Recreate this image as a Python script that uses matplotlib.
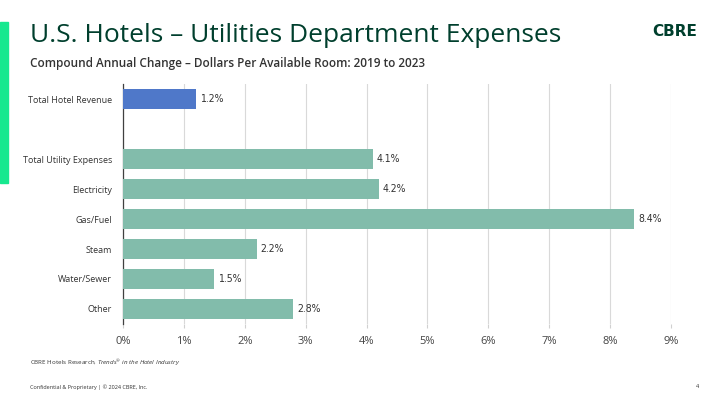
import matplotlib.pyplot as plt
from matplotlib.patches import Rectangle

plt.rcParams['mathtext.fontset'] = 'custom'
plt.rcParams['mathtext.rm'] = 'Open Sans'
plt.rcParams['mathtext.it'] = 'Open Sans:italic'

# data
categories = ['Total Hotel Revenue', '', 'Total Utility Expenses', 'Electricity',
              'Gas/Fuel', 'Steam', 'Water/Sewer', 'Other']
values = [1.2, None, 4.1, 4.2, 8.4, 2.2, 1.5, 2.8]
ticks = [0, 1, 2, 3, 4, 5, 6, 7, 8, 9]

blue = '#4f78c9'
teal = '#82bcab'
dark_green = '#003f2d'

fig = plt.figure(figsize=(7.2, 4.05), dpi=100)
fig.patch.set_facecolor('white')

# green accent bar on the left
fig.patches.append(Rectangle((0, 1 - 183/405), 8/720, 161/405, transform=fig.transFigure,
                             color='#17e88f', zorder=0))

fig.text(30/720, 1 - 36/405, 'U.S. Hotels – Utilities Department Expenses', fontsize=19,
         color=dark_green, family='Open Sans', va='center')
fig.text(30/720, 1 - 63/405, 'Compound Annual Change – Dollars Per Available Room: 2019 to 2023',
         fontsize=8.5, color='#333333', family='Open Sans', fontweight='semibold', va='center')
fig.text(697/720, 1 - 31/405, 'CBRE', fontsize=11, color=dark_green, family='DejaVu Sans',
         fontweight='bold', ha='right', va='center')

ax = fig.add_axes([123/720, 1 - 324/405, 548/720, 240/405])
ypos = list(range(len(categories)))
for y, v in zip(ypos, values):
    if v is None:
        continue
    ax.barh(y, v, height=0.66, color=blue if y == 0 else teal, zorder=3)
    ax.text(v + 0.06, y, f'{v:.1f}%', va='center', ha='left', fontsize=7.5,
            color='#333333', family=['DejaVu Sans Condensed', 'Liberation Sans Narrow', 'DejaVu Sans'],
            fontstretch='condensed')

ax.set_xlim(0, 9)
ax.set_ylim(len(categories) - 0.5, -0.5)
ax.set_yticks(ypos)
ax.set_yticklabels(categories, fontsize=6.5, color='#333333', family='Open Sans')
ax.set_xticks(ticks)
ax.set_xticklabels([f'{t}%' for t in ticks], fontsize=8, color='#444444', family='Open Sans')
ax.tick_params(axis='y', length=0, pad=8)
ax.tick_params(axis='x', length=3, color='#d0d0d0', pad=6)
ax.grid(axis='x', color='#d9d9d9', linewidth=0.8, zorder=0)
for s in ['top', 'right', 'bottom']:
    ax.spines[s].set_visible(False)
ax.spines['left'].set_color('#404040')
ax.spines['left'].set_linewidth(0.9)

fig.text(30/720, 1 - 363/405, 'CBRE Hotels Research, $\\it{Trends}$$^{®}$$\\it{\\ in\\ the\\ Hotel\\ Industry}$',
         fontsize=4.5, color='#333333', family='Open Sans', va='center')
fig.text(30/720, 1 - 387/405, 'Confidential & Proprietary | © 2024 CBRE, Inc.', fontsize=4,
         color='#333333', family='Open Sans', va='center')
fig.text(696/720, 1 - 387/405, '4', fontsize=4, color='#333333', family='Open Sans', va='center')

fig.savefig('out.png', dpi=100)
